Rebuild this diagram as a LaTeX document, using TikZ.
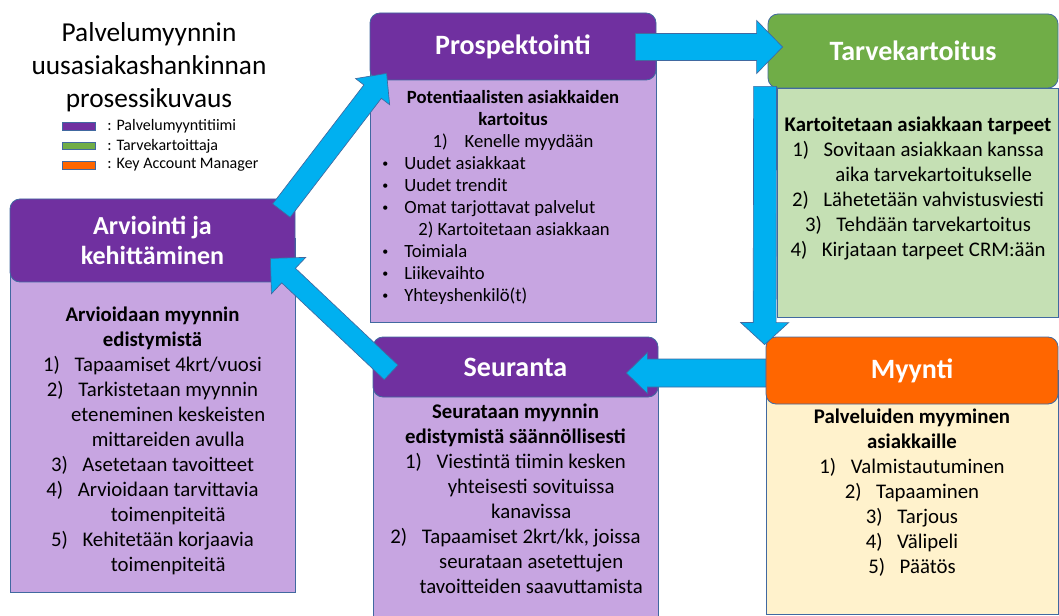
\documentclass[tikz,border=0pt]{standalone}
\usepackage{fontspec}
\setmainfont{Carlito}
\usepackage{tikz}
\usetikzlibrary{calc, fit}

\definecolor{purplehead}{HTML}{7030A0}
\definecolor{purplebody}{RGB}{199,165,225}
\definecolor{greenhead}{HTML}{70AD47}
\definecolor{greenbody}{HTML}{C5E0B4}
\definecolor{orangehead}{HTML}{FF6600}
\definecolor{orangebody}{HTML}{FFF2CC}
\definecolor{flowblue}{HTML}{00B0F0}
\definecolor{edgeblue}{RGB}{65,105,160}

% numbered line and its hanging continuation
\newcommand{\itemno}[1]{#1\hspace{0.7em}}
\newcommand{\itemgap}[1]{\hphantom{\itemno{#1}}}
\newcommand{\dotitem}{\makebox[16.5pt][l]{\raisebox{1.2pt}{\fontsize{9}{9}\selectfont\textbullet}}}

% block arrow: tail, tip, half shaft, half head, head length
\newcommand{\flowarrow}[5]{%
  \coordinate (ab) at ($(#2)!#5!(#1)$);
  \filldraw[blockarrow] ($(#1)!#3!90:(#2)$) -- ($(ab)!#3!90:(#2)$) -- ($(ab)!#4!90:(#2)$) -- (#2)
      -- ($(ab)!#4!-90:(#2)$) -- ($(ab)!#3!-90:(#2)$) -- ($(#1)!#3!-90:(#2)$) -- cycle;}

\begin{document}
\begin{tikzpicture}[x=0.75pt, y=-0.75pt, line width=0.6pt,
    headbox/.style={rounded corners=7.5pt, draw=edgeblue, inner sep=0pt},
    headtext/.style={inner sep=0pt, text=white, align=center, font=\fontsize{21}{22.5}\selectfont\bfseries},
    bodybox/.style={draw=edgeblue, inner sep=0pt},
    bodytext/.style={anchor=north, inner sep=0pt, align=center, font=\fontsize{15.6}{18.75}\selectfont},
    smalltext/.style={inner sep=0pt, font=\fontsize{14}{16.5}\selectfont},
    keytext/.style={anchor=west, inner sep=0pt, font=\fontsize{12}{12}\selectfont},
    legendbar/.style={draw=edgeblue, line width=0.4pt, inner sep=0pt},
    blockarrow/.style={fill=flowblue, draw=edgeblue, line width=0.5pt, line join=miter}]

    \useasboundingbox (0,0) rectangle (1059,616);
    \clip (0,0) rectangle (1059,616);

    % Title
    \node[inner sep=0pt, align=center, font=\fontsize{20.5}{24.75}\selectfont] (title) at (149,67)
        {Palvelumyynnin\\uusasiakashankinnan\\prosessikuvaus};

    % Legend
    \node[legendbar, fill=purplehead, fit={(62,122) (95,130)}] (keypurple) {};
    \node[legendbar, fill=greenhead, fit={(62,142) (95,149)}] (keygreen) {};
    \node[legendbar, fill=orangehead, fit={(62,161) (95,169)}] (keyorange) {};
    \node[keytext] (keypurpletext) at (107,126) {: Palvelumyyntitiimi};
    \node[keytext] (keygreentext) at (107,146) {: Tarvekartoittaja};
    \node[keytext] (keyorangetext) at (107,165) {: Key Account Manager};

    % Bodies
    \node[bodybox, fill=purplebody, fit={(10,238) (295,592)}] (arvbody) {};
    \node[bodybox, fill=purplebody, fit={(370,45) (656,322)}] (prosbody) {};
    \node[bodybox, fill=greenbody, fit={(777,88) (1058,317)}] (tarvebody) {};
    \node[bodybox, fill=purplebody, fit={(373,370) (658,625)}] (seurbody) {};
    \node[bodybox, fill=orangebody, fit={(766,370) (1058,614)}] (myybody) {};

    % Headers
    \node[headbox, fill=purplehead, fit={(10,199) (295,282)}] (arvhead) {};
    \node[headbox, fill=purplehead, fit={(370,13) (656,80)}] (proshead) {};
    \node[headbox, fill=greenhead, fit={(768,14) (1058,88)}] (tarvehead) {};
    \node[headbox, fill=purplehead, fit={(373,337) (658,397)}] (seurhead) {};
    \node[headbox, fill=orangehead, fit={(766,337) (1058,404)}] (myyhead) {};
    \node[headtext, font=\fontsize{19.5}{22.5}\selectfont\bfseries] (arvtitle) at (arvhead.center) {Arviointi ja\\kehittäminen};
    \node[headtext] (prostitle) at (proshead.center) {Prospektointi};
    \node[headtext] (tarvetitle) at (tarvehead.center) {Tarvekartoitus};
    \node[headtext] (seurtitle) at (seurhead.center) {Seuranta};
    \node[headtext] (myytitle) at (myyhead.center) {Myynti};

    % Flow arrows
    \coordinate (arvout) at ($(arvhead.north east)+(-14,12)$);
    \coordinate (prosin) at ($(proshead.south west)+(17,-7)$);
    \coordinate (prosout) at ($(proshead.east)+(-21,0.5)$);
    \coordinate (tarvein) at ($(tarvehead.west)+(15,-4)$);
    \coordinate (tarveout) at ($(tarvehead.south west)+(-2.5,-2)$);
    \coordinate (myyin) at ($(myyhead.north west)+(-1,8)$);
    \coordinate (myyout) at ($(myyhead.west)+(0,2.5)$);
    \coordinate (seurin) at ($(seurhead.east)+(-32,6)$);
    \coordinate (seurout) at ($(seurhead.south west)+(18.5,-25)$);
    \coordinate (arvin) at ($(arvhead.south east)+(-25,-24)$);
    \flowarrow{arvout}{prosin}{8.25pt}{16.1pt}{17.25pt}
    \flowarrow{prosout}{tarvein}{10.1pt}{19.9pt}{19.5pt}
    \flowarrow{tarveout}{myyin}{8.6pt}{18pt}{16.5pt}
    \flowarrow{myyout}{seurin}{10.5pt}{15.4pt}{15.75pt}
    \flowarrow{seurout}{arvin}{7.5pt}{18.75pt}{18.75pt}

    % Texts
    \node[bodytext] (arvtext) at (152.5,307) {\textbf{Arvioidaan myynnin}\\ \textbf{edistymistä}\\
        \itemno{1)}Tapaamiset 4krt/vuosi\\ \itemno{2)}Tarkistetaan myynnin\\
        \itemgap{2)}eteneminen keskeisten\\ \itemgap{2)}mittareiden avulla\\
        \itemno{3)}Asetetaan tavoitteet\\ \itemno{4)}Arvioidaan tarvittavia\\
        \itemgap{4)}toimenpiteitä\\ \itemno{5)}Kehitetään korjaavia\\
        \itemgap{5)}toimenpiteitä};
    \node[smalltext, anchor=north, align=center] (prostext) at (513,90)
        {\textbf{Potentiaalisten asiakkaiden}\\ \textbf{kartoitus}\\ 1)\hspace{0.9em}Kenelle myydään};
    \node[smalltext, anchor=north west, align=left] (proslist) at (382,156)
        {\dotitem Uudet asiakkaat\\
         \dotitem Uudet trendit\\
         \dotitem Omat tarjottavat palvelut\\
         \hspace*{27pt}2) Kartoitetaan asiakkaan\\
         \dotitem Toimiala\\
         \dotitem Liikevaihto\\
         \dotitem Yhteyshenkilö(t)};
    \node[bodytext] (tarvetext) at (918,117) {\textbf{Kartoitetaan asiakkaan tarpeet}\\
        \itemno{1)}Sovitaan asiakkaan kanssa\\ \itemgap{1)}aika tarvekartoitukselle\\
        \itemno{2)}Lähetetään vahvistusviesti\\ \itemno{3)}Tehdään tarvekartoitus\\
        \itemno{4)}Kirjataan tarpeet CRM:ään};
    \node[bodytext] (seurtext) at (515.5,404) {\textbf{Seurataan myynnin}\\ \textbf{edistymistä säännöllisesti}\\
        \itemno{1)}Viestintä tiimin kesken\\ \itemgap{1)}yhteisesti sovituissa\\
        \itemgap{1)}kanavissa\\ \itemno{2)}Tapaamiset 2krt/kk, joissa\\
        \itemgap{2)}seurataan asetettujen\\ \itemgap{2)}tavoitteiden saavuttamista};
    \node[bodytext] (myytext) at (912,409) {\textbf{Palveluiden myyminen}\\ \textbf{asiakkaille}\\
        \itemno{1)}Valmistautuminen\\ \itemno{2)}Tapaaminen\\ \itemno{3)}Tarjous\\
        \itemno{4)}Välipeli\\ \itemno{5)}Päätös};
\end{tikzpicture}
\end{document}
